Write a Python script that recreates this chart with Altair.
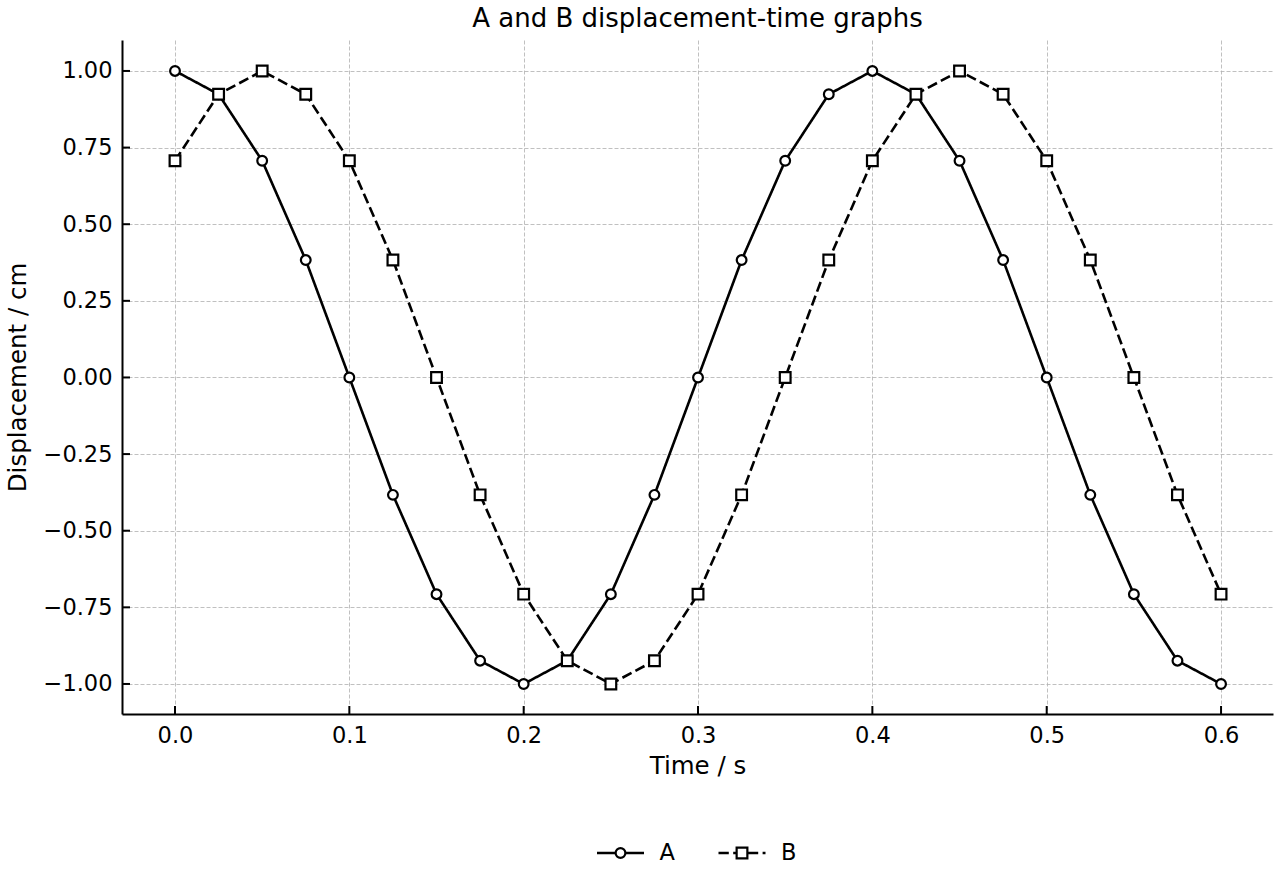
import altair as alt
import pandas as pd

time_s = [0.000, 0.025, 0.050, 0.075, 0.100, 0.125, 0.150, 0.175, 0.200, 0.225,
          0.250, 0.275, 0.300, 0.325, 0.350, 0.375, 0.400, 0.425, 0.450, 0.475,
          0.500, 0.525, 0.550, 0.575, 0.600]
a_values = [1.000, 0.924, 0.707, 0.383, 0.000, -0.383, -0.707, -0.924, -1.000, -0.924,
            -0.707, -0.383, 0.000, 0.383, 0.707, 0.924, 1.000, 0.924, 0.707, 0.383,
            0.000, -0.383, -0.707, -0.924, -1.000]
b_values = [0.707, 0.924, 1.000, 0.924, 0.707, 0.383, 0.000, -0.383, -0.707, -0.924,
            -1.000, -0.924, -0.707, -0.383, 0.000, 0.383, 0.707, 0.924, 1.000, 0.924,
            0.707, 0.383, 0.000, -0.383, -0.707]
series_names = ["A", "B"]
x_ticks = [0.0, 0.1, 0.2, 0.3, 0.4, 0.5, 0.6]
y_ticks = [-1.0, -0.75, -0.5, -0.25, 0.0, 0.25, 0.5, 0.75, 1.0]

df = pd.concat([
    pd.DataFrame({"t": time_s, "d": a_values, "s": "A"}),
    pd.DataFrame({"t": time_s, "d": b_values, "s": "B"}),
])
xt_df = pd.DataFrame({"t": x_ticks})
yt_df = pd.DataFrame({"d": y_ticks})
leg_df = pd.DataFrame({"s": series_names})

FONT = "DejaVu Sans"
W, H = 1151, 674
xs = alt.Scale(domain=[-0.0304, 0.6298], nice=False, zero=False)
ys = alt.Scale(domain=[-1.098, 1.101], nice=False, zero=False)

x_axis = alt.Axis(
    values=x_ticks, format=".1f", ticks=False, labelPadding=10, labelFontSize=22.5,
    titleFontSize=24.5, titlePadding=8, domainColor="black", domainWidth=2,
    gridColor="#b0b0b0", gridDash=[4, 2], gridWidth=0.8, labelColor="black",
    titleColor="black", titleFontWeight="normal", labelFont=FONT, titleFont=FONT)
y_axis = alt.Axis(
    values=y_ticks, format=".2f", ticks=False, labelPadding=10, labelFontSize=22.5,
    titleFontSize=24.5, titlePadding=13, domainColor="black", domainWidth=2,
    gridColor="#b0b0b0", gridDash=[4, 2], gridWidth=0.8, labelColor="black",
    titleColor="black", titleFontWeight="normal", labelFont=FONT, titleFont=FONT)

x_enc = alt.X("t:Q", scale=xs, title="Time / s", axis=x_axis)
y_enc = alt.Y("d:Q", scale=ys, title="Displacement / cm", axis=y_axis)

dash = alt.StrokeDash("s:N", scale=alt.Scale(domain=series_names, range=[[1, 0], [10.3, 4.4]]), legend=None)
shape = alt.Shape("s:N", scale=alt.Scale(domain=series_names, range=["circle", "square"]), legend=None)
size = alt.Size("s:N", scale=alt.Scale(domain=series_names, range=[95, 115]), legend=None)

lines = alt.Chart(df).mark_line(color="black", strokeWidth=2.6).encode(
    x=x_enc, y=y_enc, strokeDash=dash, detail="s:N")

points = alt.Chart(df).mark_point(filled=True, fill="white", stroke="black", strokeWidth=2.2, opacity=1).encode(
    x=x_enc, y=y_enc, shape=shape, size=size)

# inward ticks
xticks_layer = alt.Chart(xt_df).mark_rule(color="black", strokeWidth=2).encode(
    x=x_enc, y=alt.value(H), y2=alt.value(H - 8))
yticks_layer = alt.Chart(yt_df).mark_rule(color="black", strokeWidth=2).encode(
    y=y_enc, x=alt.value(0), x2=alt.value(8))

main = alt.layer(lines, points, xticks_layer, yticks_layer)

# legend below the plot, built from the series names
leg_x = alt.X("s:N", scale=alt.Scale(domain=series_names, range=[498.5, 620], padding=0), axis=None)
leg_y = alt.value(813)
leg_line = alt.Chart(leg_df).mark_point(shape="stroke", size=2209, filled=False, color="black",
                                        strokeWidth=2.6, opacity=1).encode(
    x=leg_x, y=leg_y, strokeDash=dash)
leg_mark = alt.Chart(leg_df).mark_point(filled=True, fill="white", stroke="black",
                                        strokeWidth=2.2, opacity=1).encode(
    x=leg_x, y=leg_y, shape=shape, size=size)
leg_text = alt.Chart(leg_df).mark_text(align="left", baseline="middle", dx=39, fontSize=22.5,
                                       font=FONT, color="black").encode(
    x=leg_x, y=leg_y, text="s:N")
legend = alt.layer(leg_line, leg_mark, leg_text)

chart = alt.layer(main, legend).resolve_scale(x="independent").properties(
    width=W, height=H,
    title=alt.TitleParams("A and B displacement-time graphs", fontSize=26, font=FONT,
                          fontWeight="normal", color="black", anchor="middle",
                          offset=13, baseline="alphabetic", dy=26),
    autosize=alt.AutoSizeParams(type="none"),
    padding={"left": 122, "top": 40, "right": 7, "bottom": 166},
).configure(font=FONT, background="white").configure_view(strokeWidth=0, stroke="transparent")

chart.save("out.html", embed_options={"renderer": "svg", "actions": False})
